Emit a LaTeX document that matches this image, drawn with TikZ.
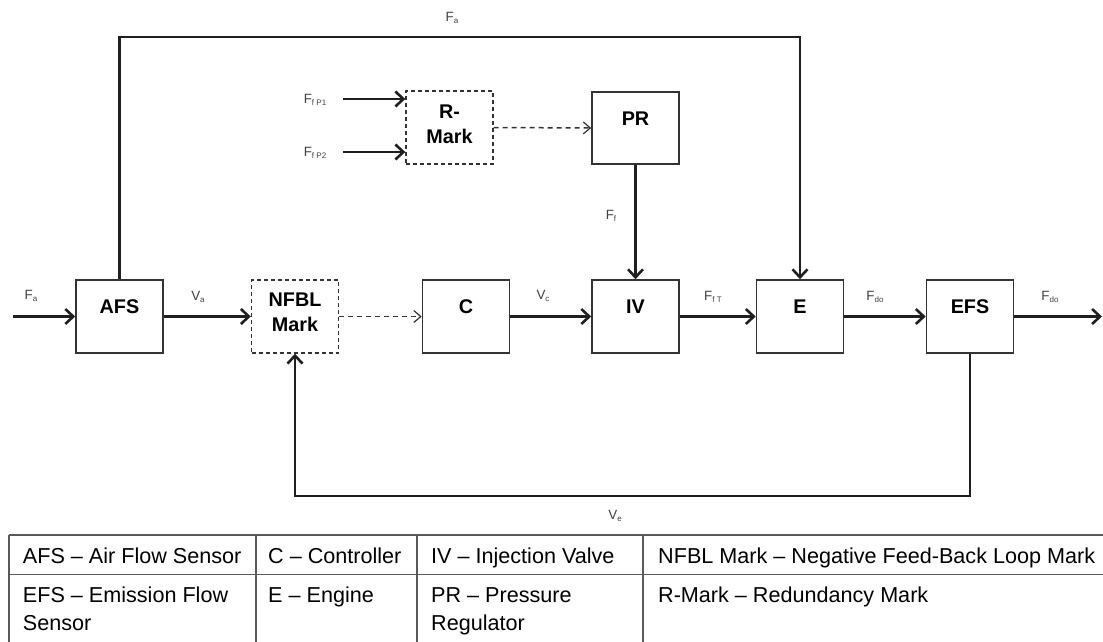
\documentclass[tikz,border=0pt]{standalone}
\usepackage{fontspec}
\setmainfont{Liberation Sans}
\usetikzlibrary{arrows.meta}
\newcommand\sbs[1]{\raisebox{-0.35ex}{\fontsize{8}{9}\selectfont #1}}
\begin{document}
\begin{tikzpicture}[x=1pt,y=-1pt,
  blk/.style={draw=black!80, line width=1.6pt, minimum width=87pt, minimum height=73pt, inner sep=0pt},
  dblk/.style={blk, dash pattern=on 4pt off 3pt, line width=1.4pt},
  blabel/.style={font=\bfseries\fontsize{19.8}{25}\selectfont, align=center, inner sep=0pt},
  sig/.style={font=\fontsize{13.4}{15}\selectfont, text=black!75, inner sep=0pt},
  flow/.style={line width=2.6pt, draw=black!88, -{Straight Barb[length=8pt,width=15pt]}},
  dflow/.style={line width=1.5pt, draw=black!80, dash pattern=on 5pt off 4pt, -{Straight Barb[length=7pt,width=12pt,line width=1.2pt]}},
  tline/.style={draw=black!65, line width=1.6pt},
  ttext/.style={font=\fontsize{21.6}{26}\selectfont, anchor=base west, inner sep=0pt}
]
\useasboundingbox (0,0) rectangle (1103,642);
\begin{scope}
\clip (0,0) rectangle (1103,642);
% blocks
\node[blk]  (afs)  at (119.5,316.5) {};
\node[dblk] (nfbl) at (295,316.5) {};
\node[blk]  (c)    at (466,316.5) {};
\node[blk]  (iv)   at (635.5,316.5) {};
\node[blk]  (e)    at (800,316.5) {};
\node[blk]  (efs)  at (970,316.5) {};
\node[blk, minimum height=72pt] (pr) at (635.5,128) {};
\node[dblk] (rm)   at (449.5,127.5) {};
% block labels
\node[blabel] (afsT)  at (119.5,306.5) {AFS};
\node[blabel] (nfblT) at (295,312) {NFBL\\Mark};
\node[blabel] (cT)    at (466,306.5) {C};
\node[blabel] (ivT)   at (635.5,306.5) {IV};
\node[blabel] (eT)    at (800,306.5) {E};
\node[blabel] (efsT)  at (970,306.5) {EFS};
\node[blabel] (prT)   at (635.5,119) {PR};
\node[blabel] (rmT)   at (449.5,124) {R-\\Mark};
% free ends
\coordinate (inA) at (13,316.5);
\coordinate (outF) at (1102,316.5);
\coordinate (topY) at (0,37);
\coordinate (botY) at (0,496);
\coordinate (p1) at (343,99);
\coordinate (p2) at (343,152);
% connectors
\draw[flow] (inA) -- (afs.west);
\draw[flow] (afs.east) -- (nfbl.west);
\draw[dflow] (nfbl.east) -- (c.west);
\draw[flow] (c.east) -- (iv.west);
\draw[flow] (iv.east) -- (e.west);
\draw[flow] (e.east) -- (efs.west);
\draw[flow] (efs.east) -- (outF);
\draw[flow] (afs.north) -- (afs.north |- topY) -- (e.north |- topY) -- (e.north);
\draw[flow] (pr.south) -- (iv.north);
\draw[flow] (efs.south) -- (efs.south |- botY) -- (nfbl.south |- botY) -- (nfbl.south);
\draw[flow] (p1) -- (p1 -| rm.west);
\draw[flow] (p2) -- (p2 -| rm.west);
\draw[dflow] (rm.east) -- (pr.west);
% signal labels
\node[sig] (lFaTop) at (452,18) {F\sbs{a}};
\node[sig] (lFaIn)  at (31,296) {F\sbs{a}};
\node[sig] (lVa)    at (198,297) {V\sbs{a}};
\node[sig] (lVc)    at (543,296) {V\sbs{c}};
\node[sig] (lFfT)   at (713,297) {F\sbs{f T}};
\node[sig] (lFdo1)  at (875,297) {F\sbs{do}};
\node[sig] (lFdo2)  at (1050,297) {F\sbs{do}};
\node[sig] (lFfP1)  at (315,100) {F\sbs{f P1}};
\node[sig] (lFfP2)  at (315,153) {F\sbs{f P2}};
\node[sig] (lFf)    at (611,216) {F\sbs{f}};
\node[sig] (lVe)    at (615,516) {V\sbs{e}};
% legend table
\draw[tline] (9,535) -- (1115,535);
\draw[tline] (9,574.5) -- (1115,574.5);
\draw[tline] (9,535) -- (9,650);
\draw[tline] (256,535) -- (256,650);
\draw[tline] (417,535) -- (417,650);
\draw[tline] (643,535) -- (643,650);
\node[ttext] (t11) at (22.7,563.3) {AFS – Air Flow Sensor};
\node[ttext] (t12) at (268,563.3) {C – Controller};
\node[ttext] (t13) at (431,563.3) {IV – Injection Valve};
\node[ttext] (t14) at (658,563.3) {NFBL Mark – Negative Feed-Back Loop Mark};
\node[ttext] (t21) at (22.7,602) {EFS – Emission Flow};
\node[ttext] (t21b) at (22.7,630) {Sensor};
\node[ttext] (t22) at (268,602) {E – Engine};
\node[ttext] (t23) at (431,602) {PR – Pressure};
\node[ttext] (t23b) at (431,630) {Regulator};
\node[ttext] (t24) at (658,602) {R-Mark – Redundancy Mark};
\end{scope}
\end{tikzpicture}
\end{document}
